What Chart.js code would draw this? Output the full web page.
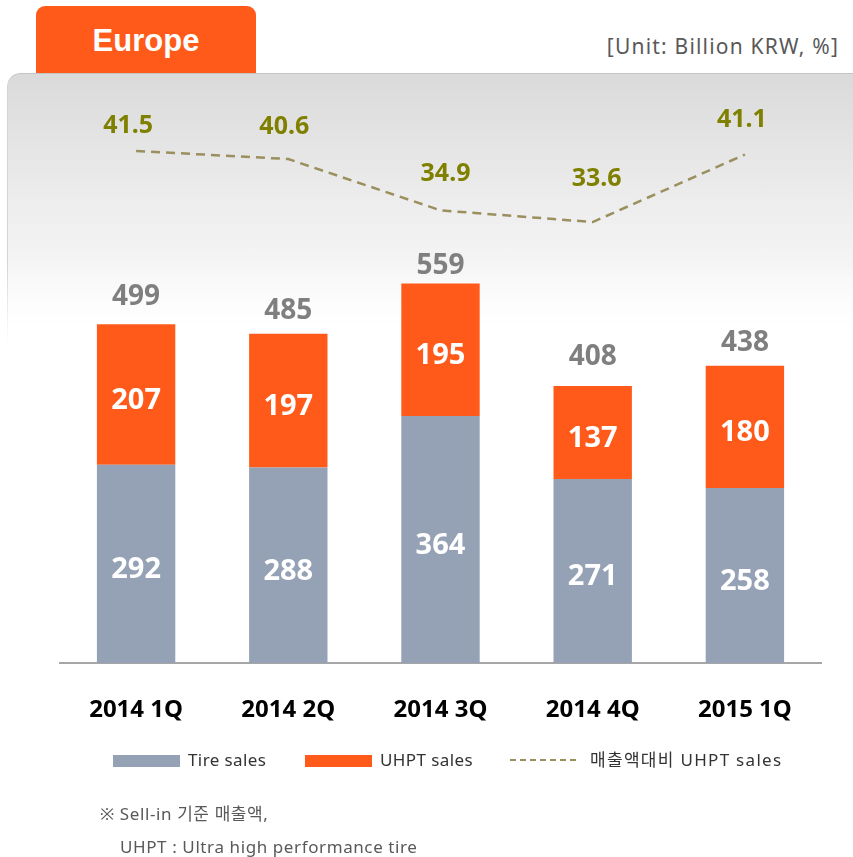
<!DOCTYPE html>
<html>
<head>
<meta charset="utf-8">
<script src="https://cdn.jsdelivr.net/npm/chart.js@4"></script>
<style>
    html, body { margin: 0; padding: 0; background: #fff; }
    body { width: 853px; height: 857px; position: relative; overflow: hidden;
        font-family: "Noto Sans", "Noto Sans CJK KR", sans-serif; }
    #tab { position: absolute; left: 36px; top: 6px; width: 220px; height: 67px;
        background: #ff5a1a; border-radius: 9px 9px 0 0; color: #fff;
        font: bold 31px "Liberation Sans", Arial, sans-serif; text-align: center; line-height: 70px; }
    #unit { position: absolute; right: 14px; top: 32px; font-size: 21px; letter-spacing: 1.2px; color: #595959; }
    #panel { position: absolute; left: 7px; top: 73px; width: 880px; height: 270px;
        border-radius: 13px 0 0 0; border-top: 1px solid #c4c4c4; border-left: 1px solid #d4d4d4;
        background: linear-gradient(to bottom, #dadada 0%, #ececec 45%, #ffffff 100%);
        -webkit-mask-image: linear-gradient(to bottom, #000 70%, transparent 100%);
        mask-image: linear-gradient(to bottom, #000 70%, transparent 100%); }
    #chart { position: absolute; left: 0; top: 0; }
    #legend { position: absolute; left: 113px; top: 748px; font-size: 17px; color: #333; }
    #legend span { position: absolute; white-space: nowrap; top: 0; line-height: 24px; letter-spacing: 0.4px; }
    .box { position: absolute; top: 7px; width: 67px; height: 12px; }
    .dash { position: absolute; top: 11px; width: 66px; border-top: 2px dashed #9b8f5e; }
    .note { position: absolute; font-size: 17px; color: #595959; white-space: nowrap; letter-spacing: 0.6px; }
</style>
</head>
<body>
<div id="panel"></div>
<div id="tab">Europe</div>
<div id="unit">[Unit: Billion KRW, %]</div>
<canvas id="chart" width="853" height="857"></canvas>
<div id="legend">
    <div class="box" style="left:0;background:#95a1b5"></div>
    <span style="left:75px">Tire sales</span>
    <div class="box" style="left:192px;background:#ff5a1a"></div>
    <span style="left:267px">UHPT sales</span>
    <div class="dash" style="left:397px"></div>
    <span style="left:477px;letter-spacing:1.3px">매출액대비 UHPT sales</span>
</div>
<div class="note" style="left:100px;top:800px">※ Sell-in 기준 매출액,</div>
<div class="note" style="left:120px;top:835px">UHPT : Ultra high performance tire</div>
<script>
    const quarters = ['2014 1Q', '2014 2Q', '2014 3Q', '2014 4Q', '2015 1Q'];
    const tireSales = [292, 288, 364, 271, 258];
    const uhptSales = [207, 197, 195, 137, 180];
    const totalSales = [499, 485, 559, 408, 438];
    const uhptShare = [41.5, 40.6, 34.9, 33.6, 41.1];

    const GRAY = '#95a1b5';
    const ORANGE = '#ff5a1a';

    // label nudges, as placed in the original slide
    const totalLift = [27, 23, 18, 29, 23];
    const shareShift = [[-8, 25], [-4, 32], [5, 36], [4, 43], [-3, 35]];

    // draws the numbers on bars, totals and line points
    const valueLabels = {
        id: 'valueLabels',
        afterDatasetsDraw(chart) {
            const c = chart.ctx;
            c.save();
            c.textAlign = 'center';
            c.textBaseline = 'middle';
            const tireMeta = chart.getDatasetMeta(1);
            const uhptMeta = chart.getDatasetMeta(2);
            const lineMeta = chart.getDatasetMeta(0);

            c.fillStyle = '#ffffff';
            c.font = 'bold 29px "Noto Sans", sans-serif';
            tireMeta.data.forEach((bar, i) => {
                c.fillText(tireSales[i], bar.x, (bar.y + bar.base) / 2 + 6);
            });
            uhptMeta.data.forEach((bar, i) => {
                c.fillText(uhptSales[i], bar.x, (bar.y + bar.base) / 2 + 6);
            });

            c.fillStyle = '#7f7f7f';
            c.font = 'bold 28px "Noto Sans", sans-serif';
            uhptMeta.data.forEach((bar, i) => {
                c.fillText(totalSales[i], bar.x, bar.y - totalLift[i]);
            });

            c.fillStyle = '#808000';
            c.font = 'bold 25px "Noto Sans", sans-serif';
            lineMeta.data.forEach((pt, i) => {
                c.fillText(uhptShare[i].toFixed(1), pt.x + shareShift[i][0], pt.y - shareShift[i][1]);
            });
            c.restore();
        }
    };

    new Chart(document.getElementById('chart'), {
        data: {
            labels: quarters,
            datasets: [
                {
                    type: 'line',
                    label: '매출액대비 UHPT sales',
                    data: uhptShare,
                    yAxisID: 'y1',
                    borderColor: '#9b8f5e',
                    borderWidth: 2.5,
                    borderDash: [9, 6],
                    pointRadius: 0,
                    tension: 0,
                    order: 0
                },
                {
                    type: 'bar',
                    label: 'Tire sales',
                    data: tireSales,
                    backgroundColor: GRAY,
                    stack: 's',
                    order: 1
                },
                {
                    type: 'bar',
                    label: 'UHPT sales',
                    data: uhptSales,
                    backgroundColor: ORANGE,
                    stack: 's',
                    order: 1
                }
            ]
        },
        options: {
            responsive: false,
            animation: false,
            layout: {
                padding: { left: 60, right: 32, top: 120, bottom: 114 }
            },
            datasets: {
                bar: { categoryPercentage: 1, barPercentage: 0.515 }
            },
            plugins: {
                legend: { display: false },
                tooltip: { enabled: false }
            },
            scales: {
                x: {
                    stacked: true,
                    grid: { display: false },
                    border: { display: true, color: '#a6a6a6', width: 2 },
                    ticks: {
                        color: '#000',
                        padding: 25,
                        font: { family: '"Noto Sans", sans-serif', size: 24, weight: 'bold' }
                    },
                    afterFit: function (scale) {
                        scale.height = 80;
                    }
                },
                y: {
                    stacked: true,
                    display: false,
                    min: 0,
                    max: 800
                },
                y1: {
                    display: false,
                    min: -15.4,
                    max: 44.94
                }
            }
        },
        plugins: [valueLabels]
    });
</script>
</body>
</html>
